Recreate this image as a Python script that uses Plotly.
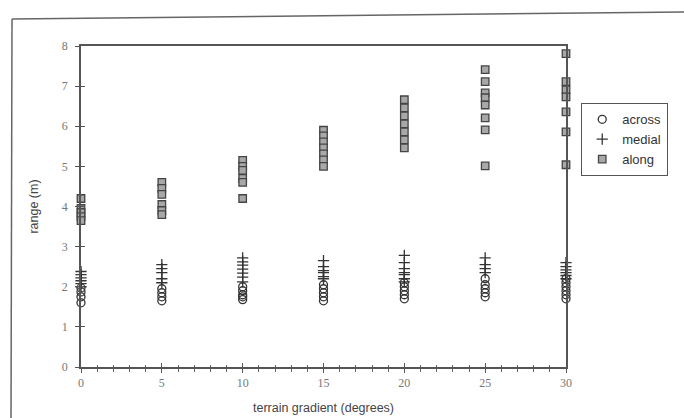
import plotly.graph_objects as go

gradients = [0, 5, 10, 15, 20, 25, 30]

across = {
    0: [1.97, 1.87, 1.75, 1.6],
    5: [1.95, 1.85, 1.75, 1.65],
    10: [2.0, 1.9, 1.8, 1.75, 1.68],
    15: [2.05, 1.95, 1.85, 1.75, 1.65],
    20: [2.1, 2.0, 1.9, 1.8, 1.7],
    25: [2.2, 2.05, 1.95, 1.85, 1.75],
    30: [2.2, 2.1, 2.0, 1.9, 1.8, 1.7],
}
medial = {
    0: [2.38, 2.3, 2.22, 2.15, 2.08, 2.0],
    5: [2.55, 2.45, 2.35, 2.2, 2.1],
    10: [2.72, 2.62, 2.54, 2.44, 2.34, 2.24, 2.12],
    15: [2.65, 2.5, 2.4, 2.35, 2.25, 2.2],
    20: [2.78, 2.6, 2.45, 2.35, 2.3, 2.2, 2.12],
    25: [2.72, 2.55, 2.45, 2.35],
    30: [2.6, 2.5, 2.42, 2.35, 2.28, 2.2],
}
along = {
    0: [4.2, 3.95, 3.85, 3.75, 3.65],
    5: [4.6, 4.45, 4.3, 4.05, 3.9, 3.8],
    10: [5.15, 5.0, 4.9, 4.7, 4.6, 4.2],
    15: [5.9, 5.76, 5.61, 5.46, 5.31, 5.16, 5.0],
    20: [6.66, 6.46, 6.26, 6.06, 5.86, 5.66, 5.46],
    25: [7.41, 7.11, 6.83, 6.71, 6.53, 6.21, 5.91, 5.01],
    30: [7.81, 7.11, 6.91, 6.73, 6.36, 5.86, 5.04],
}

x_ticks = [0, 5, 10, 15, 20, 25, 30]
y_ticks = [0, 1, 2, 3, 4, 5, 6, 7, 8]


def flatten(d):
    xs, ys = [], []
    for g in gradients:
        for v in d[g]:
            xs.append(g)
            ys.append(v)
    return xs, ys


fig = go.Figure()
ax_, ay_ = flatten(across)
mx_, my_ = flatten(medial)
lx_, ly_ = flatten(along)

fig.add_trace(go.Scatter(x=ax_, y=ay_, mode="markers", name="across", cliponaxis=False,
                         marker=dict(symbol="circle-open", size=8, color="#333",
                                     line=dict(width=1.3, color="#333"))))
fig.add_trace(go.Scatter(x=mx_, y=my_, mode="markers", name="medial", cliponaxis=False,
                         marker=dict(symbol="cross-thin", size=8, color="#333",
                                     line=dict(width=1.3, color="#333"))))
fig.add_trace(go.Scatter(x=lx_, y=ly_, mode="markers", name="along", cliponaxis=False,
                         marker=dict(symbol="square", size=7.5, color="#a8a8a8",
                                     line=dict(width=1.3, color="#444"))))
# invisible trace on overlay axes for crossing ticks
fig.add_trace(go.Scatter(x=[None], y=[None], xaxis="x2", yaxis="y2", showlegend=False,
                         hoverinfo="skip"))

tickfont = dict(family="Liberation Serif, Times New Roman, serif", size=12, color="#777")
titlefont = dict(family="Liberation Sans, Arial, sans-serif", size=12.5, color="#444")

fig.update_layout(
    width=684, height=418,
    margin=dict(l=81, r=118, t=46, b=51),
    paper_bgcolor="white", plot_bgcolor="white",
    showlegend=True,
    legend=dict(x=1.031, y=0.822, xanchor="left", yanchor="top",
                bordercolor="#555", borderwidth=1.2, bgcolor="white",
                font=dict(family="Liberation Sans, Arial, sans-serif", size=13, color="#333"),
                itemwidth=30, tracegroupgap=2),
    xaxis=dict(range=[0, 30], tickvals=x_ticks, ticktext=[str(t) for t in x_ticks],
               automargin=False,
               showgrid=False, zeroline=False, showline=True, mirror=True,
               linecolor="#555", linewidth=1.5, ticks="outside", ticklen=4,
               tickcolor="#555", tickwidth=1.2, tickfont=tickfont, ticklabelstandoff=0,
               minor=dict(dtick=1, ticks="outside", ticklen=3, tickcolor="#666", tickwidth=1),
               title=dict(text="terrain gradient (degrees)", font=titlefont, standoff=14)),
    yaxis=dict(range=[0, 8], tickvals=y_ticks, ticktext=[str(t) for t in y_ticks],
               automargin=False,
               showgrid=False, zeroline=False, showline=True, mirror=True,
               linecolor="#555", linewidth=1.5, ticks="outside", ticklen=4,
               tickcolor="#555", tickwidth=1.2, tickfont=tickfont, ticklabelstandoff=5,
               title=dict(text="range (m)", font=titlefont, standoff=20)),
    xaxis2=dict(range=[0, 30], overlaying="x", tickvals=x_ticks, showticklabels=False,
                automargin=False,
                showgrid=False, zeroline=False, showline=False, ticks="inside", ticklen=4,
                tickcolor="#555", tickwidth=1.2,
                minor=dict(dtick=1, ticks="inside", ticklen=2, tickcolor="#666", tickwidth=1)),
    yaxis2=dict(range=[0, 8], overlaying="y", tickvals=y_ticks, showticklabels=False,
                automargin=False,
                showgrid=False, zeroline=False, showline=False, ticks="inside", ticklen=4,
                tickcolor="#555", tickwidth=1.2),
)


def px_x(p):
    return (p - 81) / 485.0


def px_y(p):
    return (367 - p) / 321.0


# outer page border (scanned frame)
fig.add_shape(type="line", xref="paper", yref="paper",
              x0=px_x(12), y0=px_y(19), x1=px_x(684), y1=px_y(12),
              line=dict(color="#666", width=1.5))
fig.add_shape(type="line", xref="paper", yref="paper",
              x0=px_x(12), y0=px_y(19), x1=px_x(11), y1=px_y(420),
              line=dict(color="#666", width=1.5))

fig.write_html("out.html")
